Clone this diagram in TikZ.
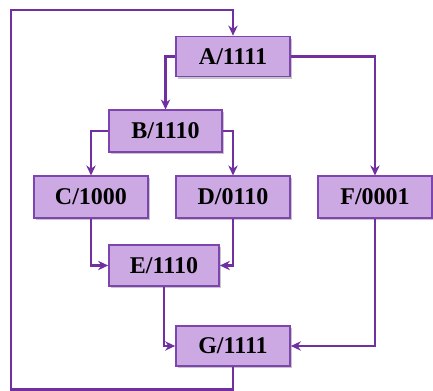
\documentclass[tikz,border=0pt]{standalone}
\usepackage{fontspec}
\setmainfont{Liberation Serif}
\usetikzlibrary{arrows.meta,shadows}
\definecolor{boxfill}{HTML}{CCA9E2}
\definecolor{boxline}{HTML}{7E44B0}
\definecolor{linecol}{HTML}{7030A0}
\begin{document}
\begin{tikzpicture}[x=0.75pt,y=-0.75pt,
  box/.style={draw=boxline,line width=1.3pt,fill=boxfill,minimum height=30pt,inner sep=0pt,
    font=\fontsize{18}{21}\selectfont\bfseries,text=black,
    drop shadow={shadow xshift=1.6pt,shadow yshift=-1.6pt,fill=black!40,opacity=0.55}},
  conn/.style={draw=linecol,line width=1.8pt,-{Stealth[length=7.5pt,width=7pt]}}]
\useasboundingbox (0,0) rectangle (433,391);
\node[box,minimum width=85.5pt] (A) at (233,56.5) {A/1111};
\node[box,minimum width=84.75pt,minimum height=31pt] (B) at (165.5,131) {B/1110};
\node[box,minimum width=85.5pt,minimum height=31pt] (C) at (91,197) {C/1000};
\node[box,minimum width=85.5pt,minimum height=31pt] (D) at (233,197) {D/0110};
\node[box,minimum width=85.5pt,minimum height=31pt] (F) at (375,197) {F/0001};
\node[box,minimum width=82.5pt,minimum height=30.5pt] (E) at (164,265.5) {E/1110};
\node[box,minimum width=85.5pt,minimum height=30.5pt] (G) at (233,346) {G/1111};
\coordinate (lb) at (11,389.5);
\coordinate (lt) at (11,10);
\draw[conn] (G.south) |- (lb) -- (lt) -| (A.north);
\draw[conn] (A.west) -| (B.north);
\draw[conn] (A.east) -| (F.north);
\draw[conn] (B.west) -| (C.north);
\draw[conn] (B.east) -| (D.north);
\draw[conn] (C.south) |- (E.west);
\draw[conn] (D.south) |- (E.east);
\draw[conn] (E.south) |- (G.west);
\draw[conn] (F.south) |- (G.east);
\end{tikzpicture}
\end{document}
